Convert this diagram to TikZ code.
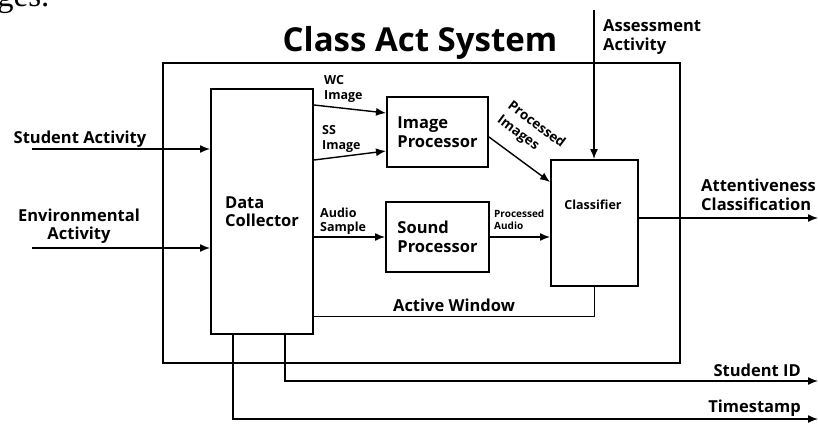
\documentclass[tikz,border=0pt]{standalone}
\usepackage{fontspec}
\setmainfont{Liberation Serif}
\setsansfont{Open Sans}
\usetikzlibrary{arrows.meta}

\tikzset{
  block/.style={draw, line width=2pt, align=left, inner sep=0pt,
    font=\sffamily\bfseries\fontsize{16.5}{18.5}\selectfont},
  flow/.style={line width=1.4pt, -{Latex[length=10pt,width=8pt]}},
  biglbl/.style={inner sep=0pt, font=\sffamily\bfseries\fontsize{16.5}{18.5}\selectfont},
  smalllbl/.style={inner sep=0pt, align=left, font=\sffamily\bfseries\fontsize{12.5}{14.5}\selectfont},
  tinylbl/.style={inner sep=0pt, align=left, font=\sffamily\bfseries\fontsize{10}{12}\selectfont}
}

\begin{document}
\begin{tikzpicture}[x=1pt,y=-1pt]
        \useasboundingbox (0,0) rectangle (818,423);

        % Caption fragment
        \node[anchor=base west, inner sep=0pt, font=\rmfamily\fontsize{33}{35}\selectfont]
            (capfrag) at (-3,6) {ges.};

        % System frame and title
        \node[draw, line width=2pt, minimum width=517pt, minimum height=300pt]
            (sys) at (421.5,213) {};
        \node[inner sep=0pt, font=\sffamily\bfseries\fontsize{33}{36}\selectfont]
            (title) at (420,43) {Class Act System};

        % Blocks
        \node[block, minimum width=102pt, minimum height=245pt]
            (dc) at (262,211.5) {Data\\Collector};
        \node[block, minimum width=101pt, minimum height=70pt]
            (ip) at (437.5,132) {Image\\Processor};
        \node[block, minimum width=103pt, minimum height=70pt]
            (sp) at (437.5,237) {Sound\\Processor};
        \node[block, minimum width=87pt, minimum height=126pt]
            (cl) at (594.5,223) {};
        \node[smalllbl] (cltxt) at (593,205) {Classifier};

        % Inputs
        \coordinate (sa) at (32,149);
        \draw[flow] (sa) -- (sa -| dc.west);
        \node[biglbl] (satxt) at (80,139) {Student Activity};

        \coordinate (ea) at (32,248);
        \draw[flow] (ea) -- (ea -| dc.west);
        \node[biglbl, align=center] (eatxt) at (79,226) {Environmental\\Activity};

        % Collector to processors
        \draw[flow] (dc.east |- 0,105) -- (ip.west |- 0,113);
        \node[smalllbl, anchor=west] (wctxt) at (324,89) {WC\\Image};

        \draw[flow] (dc.east |- 0,160) -- (ip.west |- 0,151);
        \node[smalllbl, anchor=west] (sstxt) at (322,139) {SS\\Image};

        \draw[flow] (dc.east |- sp.west) -- (sp.west);
        \node[smalllbl, anchor=west] (astxt) at (320,221) {Audio\\Sample};

        % Processors to classifier
        \draw[flow] (ip.east |- 0,137) -- (cl.west |- 0,182);
        \node[smalllbl, font=\sffamily\bfseries\fontsize{13.5}{17.5}\selectfont, rotate=-37]
            (pitxt) at (531,132) {Processed\\Images};

        \draw[flow] (sp.east) -- (sp.east -| cl.west);
        \node[tinylbl, anchor=west] (patxt) at (494,220) {Processed\\Audio};

        % Assessment input
        \coordinate (aa) at (594,10);
        \draw[flow] (aa) -- (aa |- cl.north);
        \node[biglbl, align=left, anchor=west] (aatxt) at (603,37) {Assessment\\Activity};

        % Classification output
        \coordinate (ac) at (818,218);
        \draw[flow] (cl.east |- ac) -- (ac);
        \node[biglbl, align=left, anchor=west] (actxt) at (701,195) {Attentiveness\\Classification};

        % Active window feedback
        \draw[line width=1pt] (cl.south) -- (cl.south |- 0,316) -- (dc.east |- 0,316);
        \node[biglbl] (awtxt) at (454,305) {Active Window};

        % Outputs from collector
        \coordinate (sid) at (818,381);
        \draw[flow] (285,0 |- dc.south) |- (sid);
        \node[biglbl, anchor=east] (sidtxt) at (801,370) {Student ID};

        \coordinate (ts) at (818,419);
        \draw[flow] (233,0 |- dc.south) |- (ts);
        \node[biglbl, anchor=east] (tstxt) at (801,408) {Timestamp};

    \end{tikzpicture}
\end{document}
